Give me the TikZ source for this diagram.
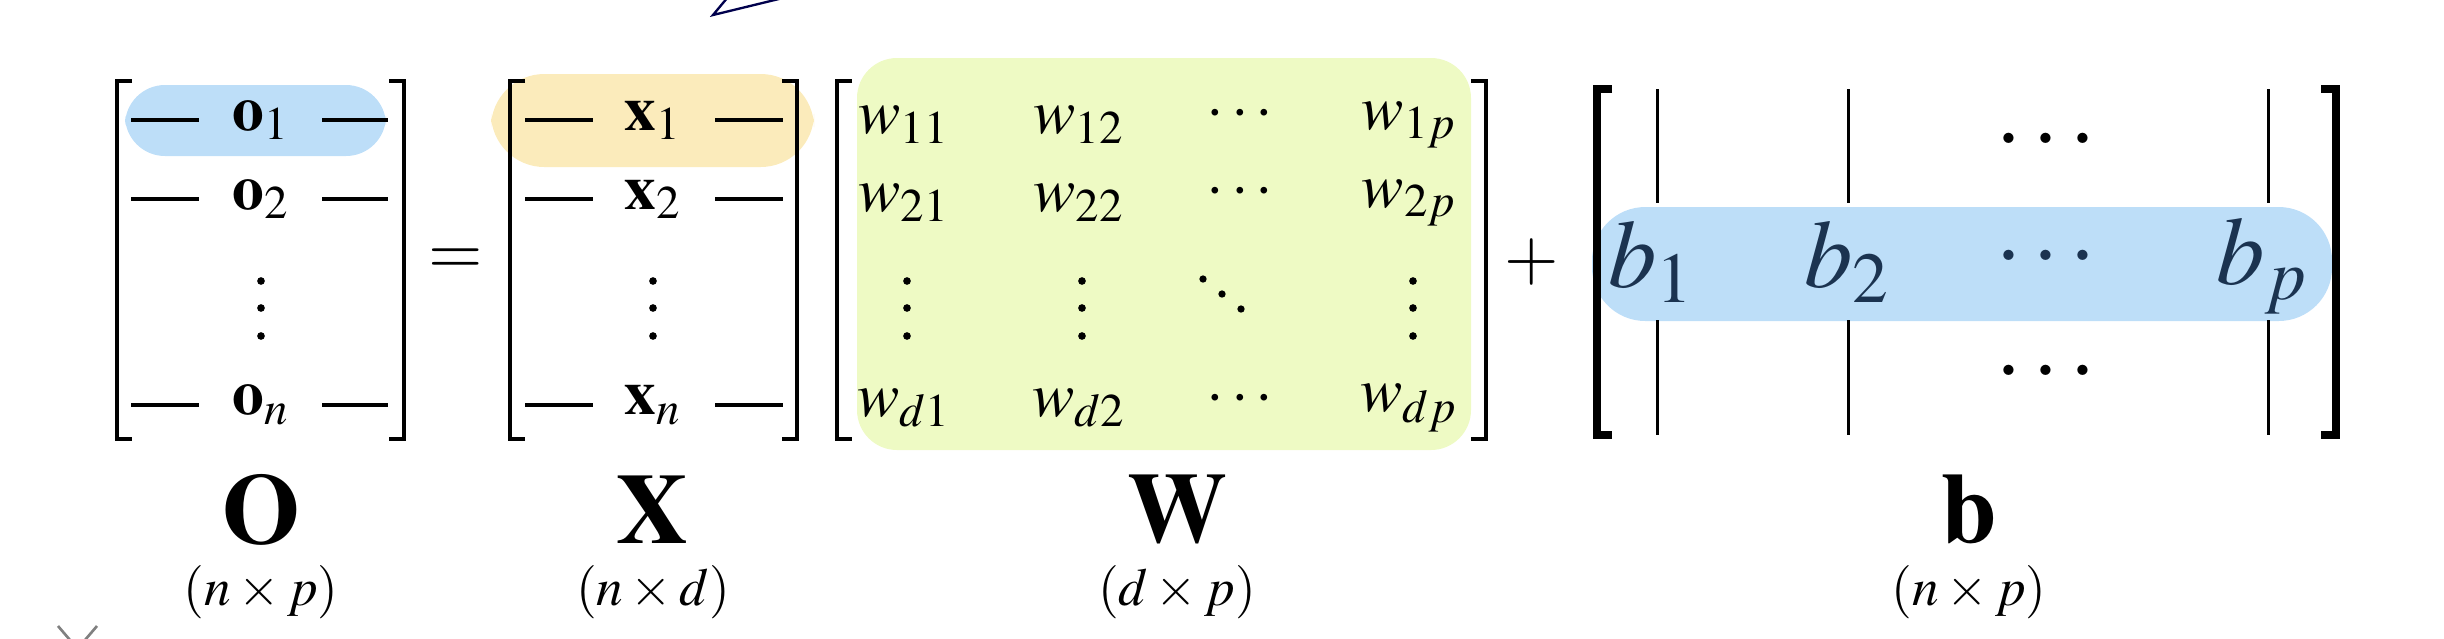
\documentclass[tikz,border=0pt]{standalone}
\usepackage{mathptmx}
\begin{document}
\begin{tikzpicture}[x=0.3pt,y=-0.3pt,
  br/.style={line width=1.4pt},
  rowdash/.style={line width=1pt},
  dot/.style={fill=black,draw=none},
  ent/.style={inner sep=0pt,font=\fontsize{19}{20}\selectfont},
  bent/.style={inner sep=0pt,font=\fontsize{29}{30}\selectfont,text=bnavy},
  big/.style={inner sep=0pt,font=\fontsize{30}{32}\selectfont\bfseries},
  dim/.style={inner sep=0pt,font=\fontsize{16}{17}\selectfont}]
\useasboundingbox (0,0) rectangle (2444,638);
\definecolor{hblue}{HTML}{BDDEF8}
\definecolor{horange}{HTML}{FBEBBB}
\definecolor{hgreen}{HTML}{EEFAC4}
\definecolor{bnavy}{HTML}{1B3350}
% highlights
\fill[hblue,rounded corners=12pt] (125,85) rectangle (386,156);
\fill[horange,rounded corners=16pt] (491,74) rectangle (814,167);
\fill[hgreen,rounded corners=12pt] (857,58) rectangle (1471,450);
\fill[hblue,rounded corners=16pt] (1592,207) rectangle (2332,321);
% brackets
\newcommand{\lbr}[3]{\draw[br] (#1+15,#2) -- (#1,#2) -- (#1,#3) -- (#1+15,#3);}
\newcommand{\rbr}[3]{\draw[br] (#1-15,#2) -- (#1,#2) -- (#1,#3) -- (#1-15,#3);}
\lbr{117}{81}{439}\rbr{404}{81}{439}
\lbr{510}{81}{439}\rbr{797}{81}{439}
\lbr{837}{81}{439}\rbr{1486}{81}{439}
\begin{scope}[br/.style={line width=2.2pt}]
\lbr{1597}{89}{435}\rbr{2336}{89}{435}
\end{scope}
% O rows
\foreach \y/\t [count=\i] in {120/1,199/2,405/n}{
  \node[ent] (o\i) at (261,\y) {$\mathbf{o}_{\t}$};
  \draw[rowdash] (131,\y) -- (199,\y);
  \draw[rowdash] (322,\y) -- (388,\y);
  \node[ent] (x\i) at (653,\y) {$\mathbf{x}_{\t}$};
  \draw[rowdash] (525,\y) -- (593,\y);
  \draw[rowdash] (715,\y) -- (783,\y);
}
% vertical dots
\foreach \x in {261,653,907,1082,1413}{
  \foreach \y in {281,308,336}{\fill[dot] (\x,\y) circle (1.15pt);}
}
% diagonal dots
\fill[dot] (1203,279) circle (1.1pt);
\fill[dot] (1222,294) circle (1.1pt);
\fill[dot] (1241,309) circle (1.1pt);
\node[inner sep=0pt,font=\fontsize{21}{20}\selectfont] (eq) at (456,262) {$=$};
\node[inner sep=0pt,font=\fontsize{21}{20}\selectfont] (pl) at (1532,262) {$+$};
% W
\foreach \x/\c [count=\j] in {904/1,1079/2,1409/p}{
  \node[ent] (w1\j) at (\x,125) {$w_{1\c}$};
  \node[ent] (w2\j) at (\x,203) {$w_{2\c}$};
  \node[ent] (wd\j) at (\x,408) {$w_{d\c}$};
}
\node[ent] (wc1) at (1240,115) {$\cdots$};
\node[ent] (wc2) at (1240,193) {$\cdots$};
\node[ent] (wc3) at (1240,400) {$\cdots$};
% b
\foreach \x in {1657,1848,2268}{
  \draw[line width=0.9pt] (\x,89) -- (\x,203);
  \draw[line width=0.9pt] (\x,320) -- (\x,435);
}
\node[bent] (b1) at (1651,262) {$b_1$};
\node[bent] (b2) at (1847,262) {$b_2$};
\node[bent] (bd) at (2046,258) {$\cdots$};
\node[bent] (bp) at (2262,266) {$b_p$};
\node[bent,text=black] (bt) at (2046,141) {$\cdots$};
\node[bent,text=black] (bb) at (2046,373) {$\cdots$};
% labels
\node[big] (LO) at (261,510) {$\mathbf{O}$};
\node[big] (LX) at (653,510) {$\mathbf{X}$};
\node[big] (LW) at (1177,510) {$\mathbf{W}$};
\node[big] (Lb) at (1969,510) {$\mathbf{b}$};
\node[dim] (dO) at (261,592) {$(n\times p)$};
\node[dim] (dX) at (653,592) {$(n\times d)$};
\node[dim] (dW) at (1177,592) {$(d\times p)$};
\node[dim] (db) at (1969,592) {$(n\times p)$};
% cropped fragments
\draw[blue!30!black,line width=0.7pt] (787,-3) -- (713,15) -- (728,-3);
\draw[gray,line width=0.8pt] (58,626) -- (70,640) (97,626) -- (85,640);
\end{tikzpicture}
\end{document}
